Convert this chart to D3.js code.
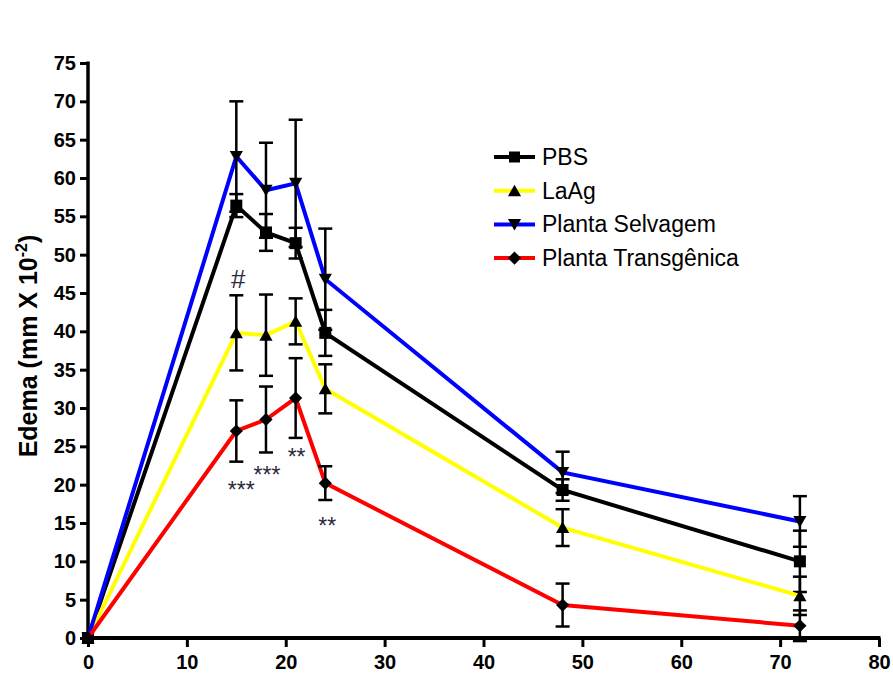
<!DOCTYPE html>
<html>
<head>
<meta charset="utf-8">
<script src="https://cdn.jsdelivr.net/npm/d3@7"></script>
<style>
  body { margin: 0; background: #fff; }
  text { font-family: "Liberation Sans", Arial, sans-serif; }
</style>
</head>
<body>
<div id="chart"></div>
<script>
// time points (hours)
var hours = [0, 15, 18, 21, 24, 48, 72];

var seriesNames = ["PBS", "LaAg", "Planta Selvagem", "Planta Transgênica"];
var seriesColors = ["#000000", "#ffff00", "#0000ff", "#ff0000"];
var seriesSymbols = ["square", "triangle", "triangleDown", "diamond"];

var pbsMean = [0, 56.4, 52.9, 51.5, 39.8, 19.3, 10.0];
var pbsErr = [0, 1.5, 2.4, 2.0, 3.0, 1.4, 4.0];
var laagMean = [0, 39.8, 39.5, 41.3, 32.5, 14.4, 5.5];
var laagErr = [0, 4.9, 5.3, 3.0, 3.2, 2.4, 2.5];
var selvMean = [0, 62.8, 58.4, 59.3, 46.8, 21.6, 15.2];
var selvErr = [0, 7.2, 6.2, 8.3, 6.6, 2.7, 3.3];
var transMean = [0, 27.0, 28.5, 31.3, 20.2, 4.3, 1.6];
var transErr = [0, 4.0, 4.3, 5.2, 2.2, 2.8, 2.0];

var allMeans = [pbsMean, laagMean, selvMean, transMean];
var allErrs = [pbsErr, laagErr, selvErr, transErr];

// significance marks: [hour, value (baseline), label]
var marks = [
  [15.2, 45.6, "#"],
  [15.5, 18.2, "***"],
  [18.1, 20.2, "***"],
  [21.1, 22.6, "**"],
  [24.2, 13.6, "**"]
];

var xTicks = [0, 10, 20, 30, 40, 50, 60, 70, 80];
var yTicks = d3.range(0, 76, 5);

var fullWidth = 893, fullHeight = 675;
var margin = {top: 63, right: 14, bottom: 37, left: 88};
var width = fullWidth - margin.left - margin.right;
var height = fullHeight - margin.top - margin.bottom;

var x = d3.scaleLinear().domain([0, 80]).range([0, width]);
var y = d3.scaleLinear().domain([0, 75]).range([height, 0]);

var svg = d3.select("#chart").append("svg")
  .attr("width", fullWidth)
  .attr("height", fullHeight);

var g = svg.append("g")
  .attr("transform", "translate(" + margin.left + "," + margin.top + ")");

// axes
var yAxis = d3.axisLeft(y).tickValues(yTicks).tickSize(8).tickPadding(4);
var xAxis = d3.axisBottom(x).tickValues(xTicks).tickSize(9).tickPadding(8);

var gy = g.append("g").call(yAxis);
var gx = g.append("g").attr("transform", "translate(0," + height + ")").call(xAxis);

[gx, gy].forEach(function(a) {
  a.attr("font-size", null);
  a.selectAll(".tick line").attr("stroke", "#000").attr("stroke-width", 3);
  a.selectAll(".tick text")
    .attr("fill", "#000")
    .attr("font-size", 20)
    .attr("font-weight", "bold")
    .style("font-family", "'Liberation Sans', Arial, sans-serif");
});
gy.select(".domain").attr("stroke", "#000").attr("stroke-width", 3.5)
  .attr("d", "M0," + (height + 2) + "V-1.5");
gx.select(".domain").attr("stroke", "#000").attr("stroke-width", 4)
  .attr("d", "M-2,0H" + (width + 1.5));

// y axis title
var yt = svg.append("text")
  .attr("transform", "translate(37," + 346 + ") rotate(-90)")
  .attr("text-anchor", "middle")
  .attr("fill", "#000")
  .style("font-size", "25px")
  .style("font-weight", "bold");
yt.append("tspan").text("Edema (mm X 10");
yt.append("tspan").attr("dy", -10).style("font-size", "16px").text("-2");
yt.append("tspan").attr("dy", 10).text(")");

// symbol shapes
function symbolPath(kind, s) {
  if (kind === "square") return d3.symbol().type(d3.symbolSquare).size(s * s)();
  if (kind === "triangle") return "M0," + (-s * 0.55) + "L" + (s * 0.6) + "," + (s * 0.5) + "L" + (-s * 0.6) + "," + (s * 0.5) + "Z";
  if (kind === "triangleDown") return "M0," + (s * 0.55) + "L" + (s * 0.6) + "," + (-s * 0.5) + "L" + (-s * 0.6) + "," + (-s * 0.5) + "Z";
  return "M0," + (-s * 0.6) + "L" + (s * 0.6) + ",0L0," + (s * 0.6) + "L" + (-s * 0.6) + ",0Z";
}

var line = d3.line()
  .x(function(d) { return x(d.h); })
  .y(function(d) { return y(d.m); });

allMeans.forEach(function(means, si) {
  var data = hours.map(function(h, i) { return {h: h, m: means[i], e: allErrs[si][i]}; });
  var sg = g.append("g");

  sg.append("path")
    .datum(data)
    .attr("fill", "none")
    .attr("stroke", seriesColors[si])
    .attr("stroke-width", 4)
    .attr("d", line);

  var eb = sg.selectAll(".err").data(data.filter(function(d) { return d.e > 0; }))
    .enter().append("g");
  eb.append("line")
    .attr("x1", function(d) { return x(d.h); })
    .attr("x2", function(d) { return x(d.h); })
    .attr("y1", function(d) { return y(d.m + d.e); })
    .attr("y2", function(d) { return y(d.m - d.e); })
    .attr("stroke", "#000").attr("stroke-width", 2.5);
  [1, -1].forEach(function(sgn) {
    eb.append("line")
      .attr("x1", function(d) { return x(d.h) - 7; })
      .attr("x2", function(d) { return x(d.h) + 7; })
      .attr("y1", function(d) { return y(d.m + sgn * d.e); })
      .attr("y2", function(d) { return y(d.m + sgn * d.e); })
      .attr("stroke", "#000").attr("stroke-width", 2.5);
  });

  sg.selectAll(".pt").data(data).enter().append("path")
    .attr("transform", function(d) { return "translate(" + x(d.h) + "," + y(d.m) + ")"; })
    .attr("d", symbolPath(seriesSymbols[si], seriesSymbols[si] === "square" ? 12 : 11))
    .attr("fill", "#000");
});

// significance marks
g.selectAll(".mark").data(marks).enter().append("text")
  .attr("x", function(d) { return x(d[0]); })
  .attr("y", function(d) { return y(d[1]); })
  .attr("text-anchor", "middle")
  .attr("fill", "#2b2b3b")
  .style("font-size", function(d) { return d[2] === "#" ? "26px" : "23px"; })
  .text(function(d) { return d[2]; });

// legend
var legend = svg.append("g").attr("transform", "translate(494,157)");
seriesNames.forEach(function(name, i) {
  var lg = legend.append("g").attr("transform", "translate(0," + (i * 33.7) + ")");
  lg.append("line").attr("x1", 0).attr("x2", 41).attr("y1", 0).attr("y2", 0)
    .attr("stroke", seriesColors[i]).attr("stroke-width", 4);
  lg.append("path").attr("transform", "translate(20.5,0)")
    .attr("d", symbolPath(seriesSymbols[i], 11))
    .attr("fill", "#000");
  lg.append("text").attr("x", 48).attr("y", 8)
    .style("font-size", "23px")
    .attr("fill", "#000")
    .text(name);
});
</script>
</body>
</html>
